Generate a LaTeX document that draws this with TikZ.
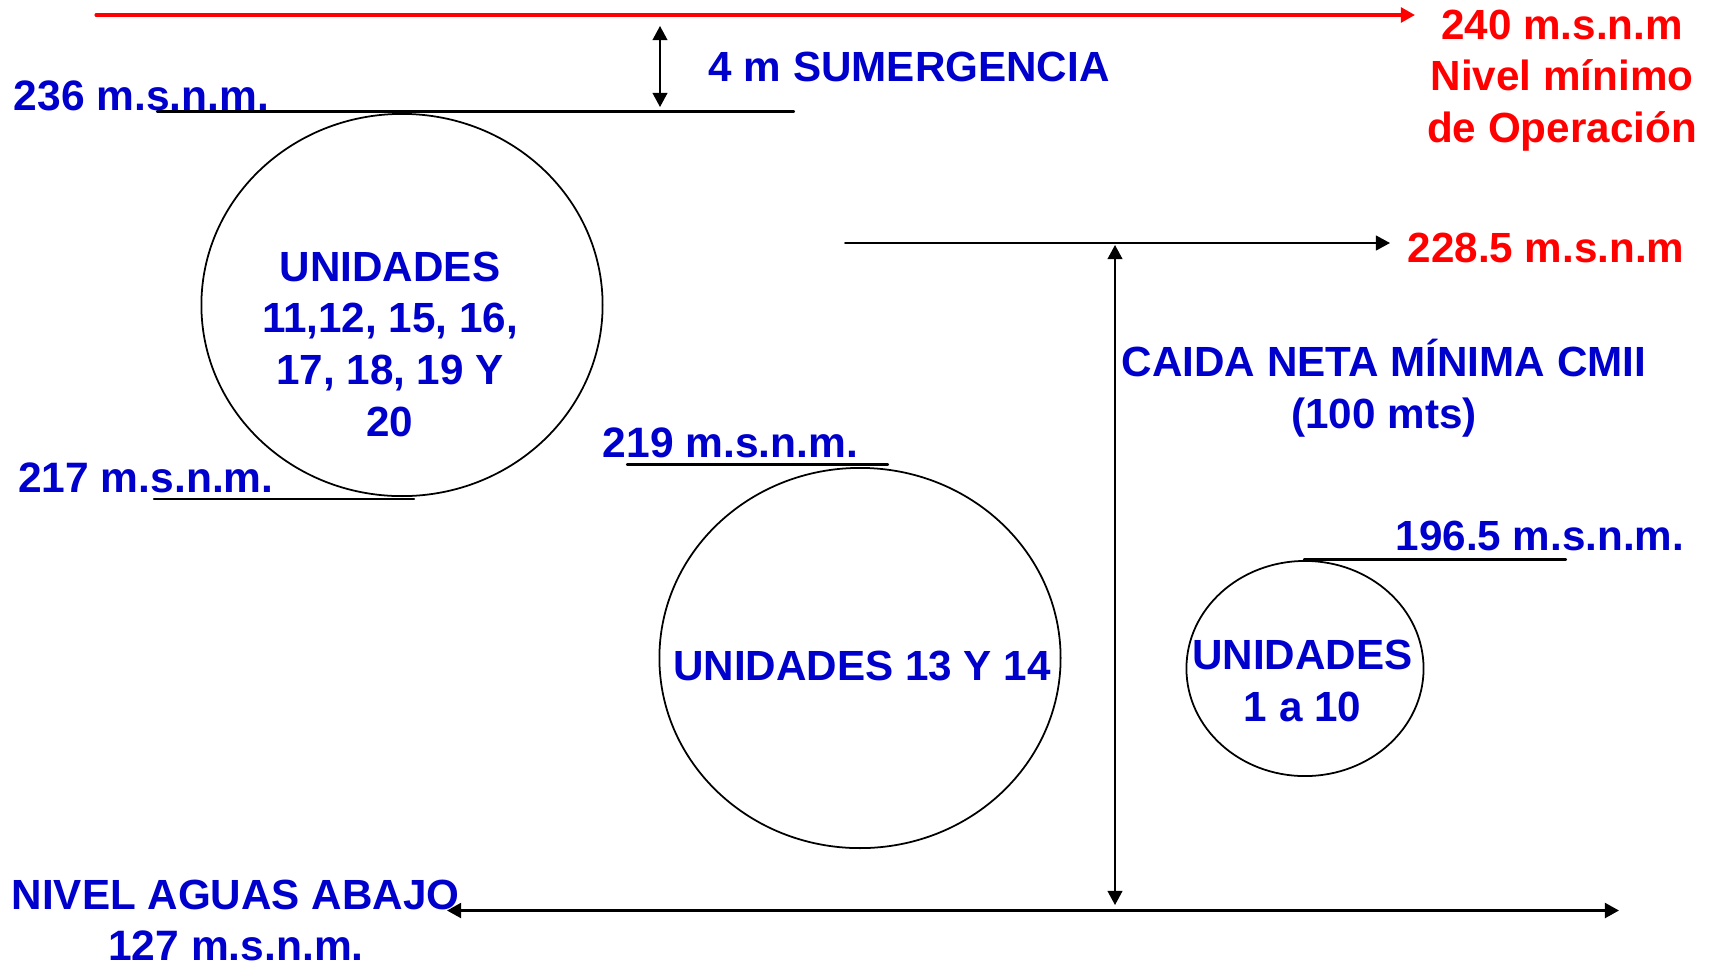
\documentclass[tikz,border=0pt]{standalone}
\usepackage{fontspec}
\setmainfont{Liberation Sans}
\usepackage{xcolor}
\usetikzlibrary{shapes.geometric}
\usetikzlibrary{arrows.meta}
\definecolor{nivelazul}{RGB}{0,0,204}
\definecolor{nivelrojo}{RGB}{255,0,0}

\begin{document}
\begin{tikzpicture}
    [line cap=round,line join=round,x=0.01cm,y=-0.01cm,
     punta/.style={-{Triangle[length=4pt,width=4.2pt]}},
     dpunta/.style={{Triangle[length=4pt,width=4.2pt]}-{Triangle[length=4pt,width=4.2pt]}},
     texto/.style={inner sep=0pt,text=nivelazul,font=\fontsize{12}{14.65}\selectfont\bfseries},
     cota/.style={inner sep=0pt,text=nivelazul,font=\fontsize{12.1}{14.65}\selectfont\bfseries},
     nivel/.style={line width=0.6pt},
     unidad/.style={draw,ellipse,line width=0.5pt,inner sep=0pt}]
\useasboundingbox (0,0) rectangle (1718,963);
%the three groups of units
 \node[unidad,minimum width=4.01cm,minimum height=3.82cm] (u1) at (402,305) {};
 \node[unidad,minimum width=4.01cm,minimum height=3.80cm] (u2) at (860,658) {};
 \node[unidad,minimum width=2.37cm,minimum height=2.15cm] (u3) at (1305,668.5) {};

%(base = last line)
 \node[texto,anchor=base,align=center] (t1) at (390,436) {UNIDADES\\11,12, 15, 16,\\17, 18, 19 Y\\20};
 \node[texto,anchor=base] (t2) at (862,680) {UNIDADES 13 Y 14};
 \node[texto,anchor=base,align=center] (t3) at (1302.5,721) {UNIDADES\\1 a 10};

%level lines
 \coordinate (a236) at (157,111.5);
 \coordinate (b236) at (794,111.5);
 \coordinate (a217) at (154,499);
 \coordinate (b217) at (414,499);
 \coordinate (a219) at (627,464.5);
 \coordinate (b219) at (888,464.5);
 \coordinate (a196) at (1304,559.5);
 \coordinate (b196) at (1566,559.5);
 \draw[nivel] (a236) -- (b236);
 \draw[nivel] (a217) -- (b217);
 \draw[nivel] (a219) -- (b219);
 \draw[nivel] (a196) -- (b196);

 \node[cota,anchor=base west] (c236) at (13,110) {236 m.s.n.m.};
 \node[cota,anchor=base west] (c217) at (17.5,492) {217 m.s.n.m.};
 \node[cota,anchor=base west] (c219) at (602,457) {219 m.s.n.m.};
 \node[texto,anchor=base west] (c196) at (1395,550) {196.5 m.s.n.m.};

%minimum operating level
 \coordinate (r0) at (96,15);
 \coordinate (r1) at (1415,15);
 \draw[punta,nivelrojo,line width=0.9pt] (r0) -- (r1);
 \node[texto,text=nivelrojo,anchor=base,align=center] (c240) at (1562,142.5) {240 m.s.n.m\\Nivel mínimo\\de Operación};

%submergence
 \coordinate (s0) at (660,26);
 \coordinate (s1) at (660,107);
 \draw[dpunta,line width=0.45pt] (s0) -- (s1);
 \node[texto,anchor=base west] (sum) at (708,81) {4 m SUMERGENCIA};

%228.5 level and net head
 \coordinate (k0) at (845,243);
 \coordinate (k1) at (1390,243);
 \draw[punta,line width=0.55pt] (k0) -- (k1);
 \node[texto,text=nivelrojo,anchor=base west] (c228) at (1407,262) {228.5 m.s.n.m};

 \coordinate (h0) at (1115,245);
 \coordinate (h1) at (1115,905);
 \draw[dpunta,line width=0.45pt] (h0) -- (h1);
 \node[texto,anchor=base,align=center] (caida) at (1384,428) {CAIDA NETA MÍNIMA CMII\\(100 mts)};

%tail water
 \coordinate (w0) at (447,910.5);
 \coordinate (w1) at (1619,910.5);
 \draw[dpunta,line width=0.8pt] (w0) -- (w1);
 \node[texto,anchor=base west] (abajo) at (11,909) {NIVEL AGUAS ABAJO};
 \node[cota,anchor=base] (c127) at (236,960) {127 m.s.n.m.};

\end{tikzpicture}
\end{document}
